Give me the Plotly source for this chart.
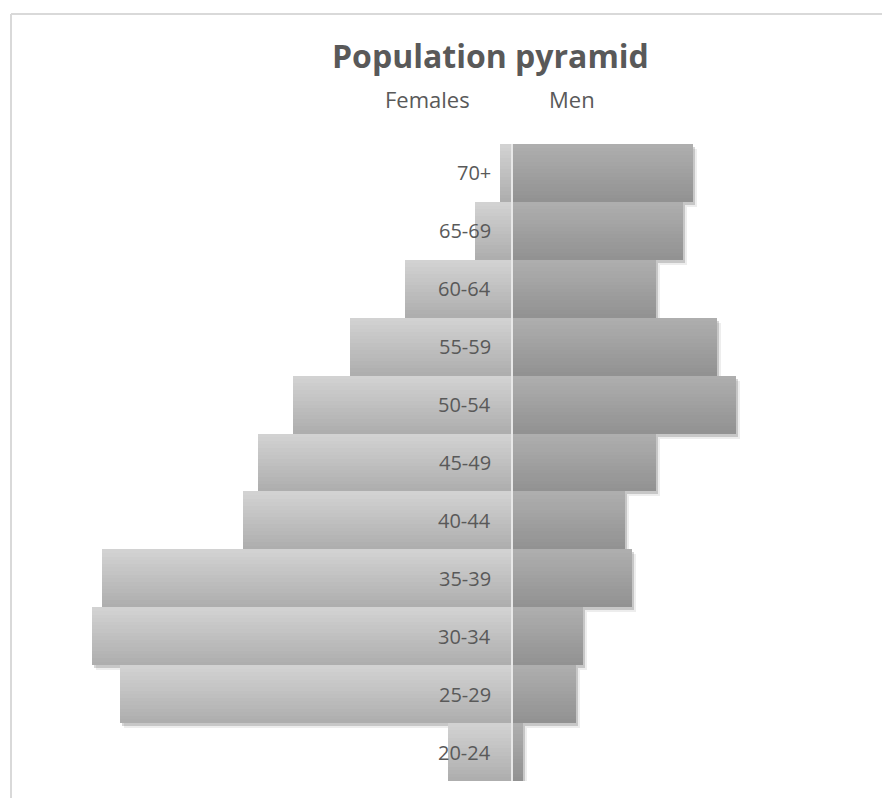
import plotly.graph_objects as go

# Age groups listed bottom to top
age_groups = ["20-24", "25-29", "30-34", "35-39", "40-44", "45-49",
              "50-54", "55-59", "60-64", "65-69", "70+"]
females = [32, 196, 210, 205, 134.5, 127, 109.5, 81, 53.5, 18.5, 6]
men = [5.5, 32, 35.5, 60, 56.5, 72, 112, 102.5, 72, 85.5, 90.5]

title_text = "Population pyramid"
left_label = "Females"
right_label = "Men"

W, H = 882, 798
ML, MR, MT, MB = 40, 22, 144, 17
PW, PH = W - ML - MR, H - MT - MB
X_RANGE = [-236, 174]
UNIT_PX = PW / (X_RANGE[1] - X_RANGE[0])
ROW_PX = PH / len(age_groups)
TEXT = "#595959"
FONT = "Open Sans"


def paper_x(px):
    return (px - ML) / PW


def paper_y(py):
    return (H - MB - py) / PH


def mix(c1, c2, t):
    r = [round(a + (b - a) * t) for a, b in zip(c1, c2)]
    return f"rgb({r[0]},{r[1]},{r[2]})"


fig = go.Figure()

fem_x = [-v for v in females]

# soft drop shadow under every bar (down/right)
for dx_px, dy_px, alpha in [(4, 5, 0.07), (2, 3, 0.16)]:
    for xs in (fem_x, men):
        fig.add_trace(go.Bar(
            y=age_groups, x=xs, base=dx_px / UNIT_PX, orientation="h",
            offset=-0.5 - dy_px / ROW_PX, width=1,
            marker=dict(color=f"rgba(0,0,0,{alpha})", line=dict(width=0)),
            hoverinfo="skip", showlegend=False))

# vertical gradient: stacked layers, each shorter from the top and darker
N = 16
styles = [
    (fem_x, (210, 210, 210), (174, 174, 174)),
    (men, (174, 174, 174), (146, 146, 146)),
]
for xs, top, bottom in styles:
    for k in range(N):
        fig.add_trace(go.Bar(
            y=age_groups, x=xs, orientation="h",
            offset=-0.5, width=1 - k / N,
            marker=dict(color=mix(top, bottom, k / (N - 1)), line=dict(width=0)),
            hoverinfo="skip", showlegend=False))

annotations = []
for g in age_groups:
    annotations.append(dict(
        x=0, y=g, xref="x", yref="y", xanchor="right", yanchor="middle",
        xshift=-19, text=g, showarrow=False,
        font=dict(family=FONT, size=20, color=TEXT)))

annotations += [
    dict(x=paper_x(490), y=paper_y(56), xref="paper", yref="paper",
         xanchor="center", yanchor="middle", text=title_text, showarrow=False,
         font=dict(family=FONT, size=32, color=TEXT, weight=700)),
    dict(x=paper_x(427.5), y=paper_y(98.5), xref="paper", yref="paper",
         xanchor="center", yanchor="middle", text=left_label, showarrow=False,
         font=dict(family=FONT, size=22, color=TEXT)),
    dict(x=paper_x(571.5), y=paper_y(98.5), xref="paper", yref="paper",
         xanchor="center", yanchor="middle", text=right_label, showarrow=False,
         font=dict(family=FONT, size=22, color=TEXT)),
]

shapes = [
    # chart frame (top and left edges)
    dict(type="line", xref="paper", yref="paper",
         x0=paper_x(11), x1=paper_x(W + 5), y0=paper_y(14), y1=paper_y(14),
         line=dict(color="#d9d9d9", width=2), layer="below"),
    dict(type="line", xref="paper", yref="paper",
         x0=paper_x(11), x1=paper_x(11), y0=paper_y(14), y1=paper_y(H + 5),
         line=dict(color="#d9d9d9", width=2), layer="below"),
    # vertical axis line at zero
    dict(type="line", xref="x", yref="paper", x0=0, x1=0, y0=0, y1=1,
         line=dict(color="#e8e8e8", width=2), layer="above"),
]

fig.update_layout(
    width=W, height=H,
    margin=dict(l=ML, r=MR, t=MT, b=MB, pad=0),
    barmode="overlay", bargap=0,
    paper_bgcolor="white", plot_bgcolor="white",
    xaxis=dict(range=X_RANGE, visible=False, fixedrange=True),
    yaxis=dict(range=[-0.5, len(age_groups) - 0.5], visible=False,
               categoryorder="array", categoryarray=age_groups, fixedrange=True),
    annotations=annotations, shapes=shapes,
    showlegend=False,
)

fig.write_html("out.html", config={"displayModeBar": False})
